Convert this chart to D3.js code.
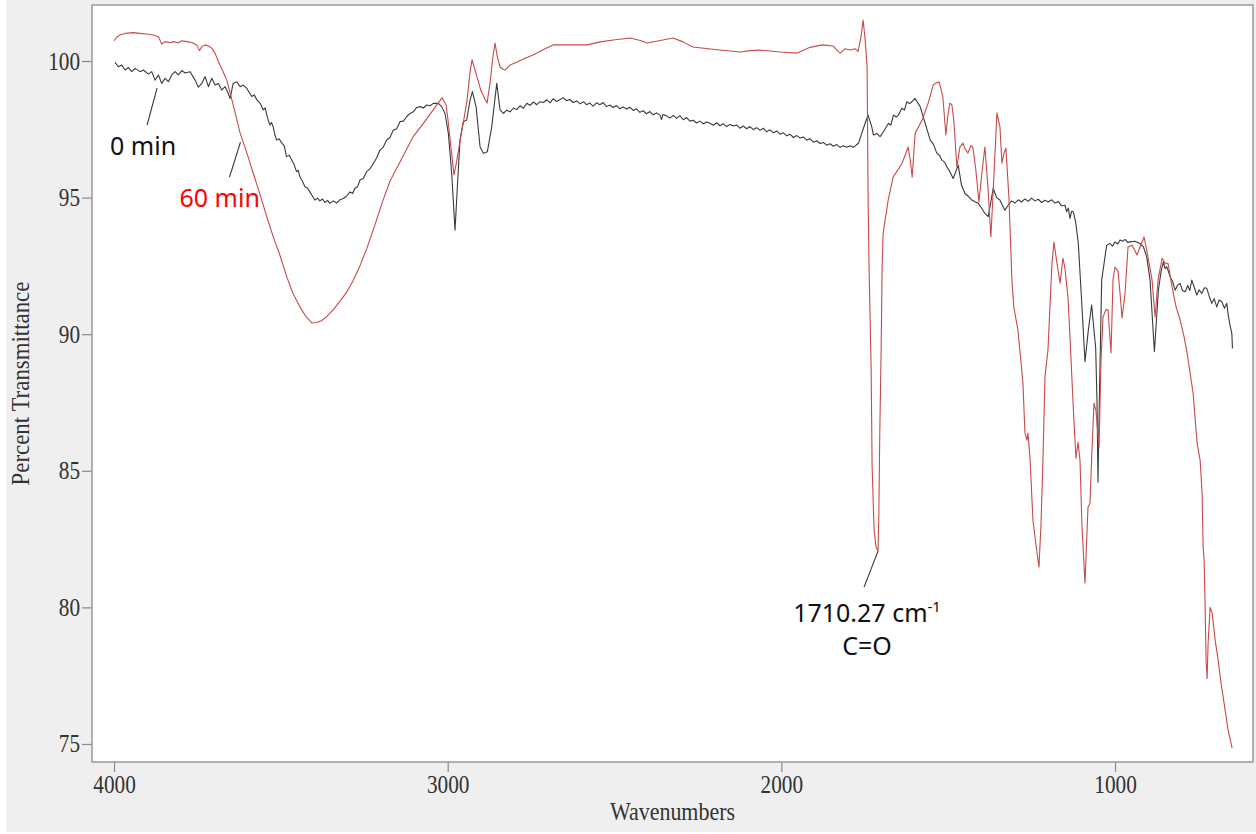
<!DOCTYPE html>
<html>
<head>
<meta charset="utf-8">
<script src="https://cdn.jsdelivr.net/npm/d3@7"></script>
<style>
  body { margin: 0; background: #fff; }
  svg { display: block; }
</style>
</head>
<body>
<svg id="chart" width="1256" height="834"></svg>
<script>
// FTIR spectra: percent transmittance vs wavenumber (cm-1), [wavenumber, %T]

// 0 min sample
const spectrum0 = [
  [3997, 99.95], [3987, 99.79], [3977, 99.85], [3967, 99.67], [3957, 99.76], [3947, 99.61], [3937, 99.73],
  [3922, 99.61], [3912, 99.67], [3897, 99.52], [3887, 99.61], [3877, 99.30], [3867, 99.49], [3857, 99.18],
  [3847, 99.37], [3837, 99.24], [3827, 99.49], [3817, 99.61], [3807, 99.49], [3797, 99.65], [3787, 99.56],
  [3772, 99.61], [3757, 99.30], [3747, 99.04], [3737, 99.18], [3727, 99.43], [3717, 99.06], [3707, 99.37],
  [3697, 99.12], [3687, 99.18], [3677, 98.94], [3667, 99.06], [3658, 98.82], [3652, 98.63], [3643, 99.18],
  [3632, 99.24], [3622, 99.06], [3613, 99.12], [3602, 99.00], [3595, 98.85], [3587, 98.70], [3580, 98.76],
  [3572, 98.58], [3562, 98.45], [3553, 98.21], [3547, 98.28], [3542, 98.02], [3537, 97.80], [3533, 97.66],
  [3528, 97.75], [3523, 97.59], [3518, 97.30], [3513, 97.11], [3505, 97.15], [3497, 96.99], [3490, 96.90],
  [3483, 96.50], [3475, 96.55], [3467, 96.37], [3460, 96.20], [3453, 95.95], [3448, 96.00], [3443, 95.76],
  [3435, 95.60], [3428, 95.40], [3420, 95.35], [3413, 95.21], [3405, 95.05], [3398, 94.91], [3390, 94.98],
  [3383, 94.88], [3375, 94.95], [3368, 94.82], [3360, 94.90], [3353, 94.79], [3343, 94.88], [3333, 94.80],
  [3323, 94.92], [3313, 94.97], [3303, 95.05], [3293, 95.21], [3285, 95.15], [3278, 95.34], [3270, 95.40],
  [3263, 95.64], [3253, 95.70], [3243, 95.95], [3233, 96.05], [3223, 96.25], [3213, 96.45], [3203, 96.74],
  [3193, 96.85], [3183, 97.11], [3173, 97.20], [3163, 97.47], [3153, 97.52], [3143, 97.78], [3133, 97.80],
  [3123, 97.96], [3113, 98.08], [3103, 98.14], [3093, 98.30], [3083, 98.33], [3073, 98.28], [3063, 98.39],
  [3053, 98.36], [3043, 98.45], [3028, 98.45], [3018, 98.33], [3008, 98.08], [2998, 97.35], [2988, 95.89],
  [2978, 93.81], [2971, 95.40], [2963, 97.11], [2953, 97.78], [2943, 97.84], [2933, 98.57], [2926, 98.88],
  [2915, 98.33], [2903, 96.86], [2893, 96.62], [2881, 96.68], [2868, 97.59], [2853, 99.18], [2843, 98.21],
  [2833, 98.08], [2823, 98.20], [2813, 98.14], [2803, 98.28], [2793, 98.22], [2783, 98.36], [2773, 98.27],
  [2763, 98.45], [2753, 98.38], [2743, 98.50], [2733, 98.40], [2723, 98.51], [2713, 98.48], [2703, 98.58],
  [2693, 98.47], [2684, 98.62], [2674, 98.52], [2664, 98.58], [2654, 98.66], [2644, 98.55], [2634, 98.59],
  [2624, 98.48], [2613, 98.54], [2603, 98.43], [2593, 98.51], [2584, 98.40], [2574, 98.46], [2564, 98.35],
  [2554, 98.47], [2544, 98.40], [2534, 98.48], [2524, 98.33], [2514, 98.39], [2504, 98.30], [2494, 98.37],
  [2484, 98.25], [2474, 98.32], [2464, 98.24], [2454, 98.31], [2444, 98.19], [2434, 98.25], [2424, 98.12],
  [2414, 98.18], [2404, 98.07], [2394, 98.15], [2384, 98.03], [2374, 98.10], [2364, 98.02], [2359, 97.86],
  [2355, 98.04], [2345, 98.00], [2334, 97.91], [2324, 98.01], [2314, 97.90], [2304, 98.00], [2294, 97.85],
  [2284, 97.93], [2274, 97.80], [2264, 97.83], [2254, 97.73], [2244, 97.80], [2234, 97.70], [2224, 97.77],
  [2214, 97.72], [2204, 97.65], [2194, 97.74], [2184, 97.63], [2174, 97.70], [2164, 97.60], [2154, 97.68],
  [2144, 97.62], [2134, 97.66], [2124, 97.54], [2114, 97.62], [2104, 97.52], [2094, 97.60], [2084, 97.49],
  [2074, 97.56], [2064, 97.46], [2054, 97.54], [2044, 97.41], [2034, 97.48], [2024, 97.37], [2014, 97.44],
  [2004, 97.32], [1994, 97.37], [1984, 97.26], [1974, 97.32], [1964, 97.20], [1954, 97.27], [1944, 97.18],
  [1934, 97.22], [1924, 97.10], [1914, 97.16], [1904, 97.03], [1894, 97.08], [1884, 96.98], [1874, 97.02],
  [1864, 96.92], [1854, 96.97], [1844, 96.88], [1834, 96.94], [1824, 96.84], [1814, 96.90], [1804, 96.84],
  [1794, 96.90], [1784, 96.84], [1769, 96.99], [1759, 97.35], [1749, 97.72], [1740, 98.02], [1729, 97.59],
  [1724, 97.29], [1714, 97.35], [1704, 97.23], [1694, 97.41], [1679, 97.72], [1672, 97.65], [1664, 98.02],
  [1656, 97.95], [1649, 98.02], [1639, 98.27], [1631, 98.20], [1624, 98.51], [1616, 98.44], [1609, 98.51],
  [1599, 98.63], [1584, 98.33], [1569, 97.72], [1554, 97.11], [1544, 96.95], [1534, 96.62], [1526, 96.55],
  [1519, 96.37], [1511, 96.30], [1504, 96.13], [1495, 95.95], [1485, 95.70], [1470, 96.19], [1460, 95.45],
  [1450, 95.16], [1440, 95.05], [1429, 94.91], [1420, 94.85], [1410, 94.79], [1400, 94.62], [1390, 94.42],
  [1380, 94.30], [1365, 95.34], [1355, 95.00], [1345, 94.91], [1337, 94.70], [1330, 94.54], [1320, 94.73],
  [1310, 94.88], [1300, 94.80], [1290, 94.92], [1280, 94.84], [1270, 94.95], [1260, 94.86], [1250, 94.98],
  [1240, 94.88], [1230, 94.94], [1220, 94.82], [1210, 94.90], [1200, 94.84], [1190, 94.92], [1180, 94.80],
  [1170, 94.86], [1160, 94.70], [1150, 94.72], [1145, 94.48], [1140, 94.62], [1135, 94.24], [1130, 94.50],
  [1125, 94.48], [1118, 94.10], [1110, 93.32], [1100, 91.20], [1090, 88.99], [1080, 90.15], [1070, 91.07],
  [1062, 90.00], [1058, 89.50], [1054, 87.50], [1051, 84.58], [1047, 87.59], [1040, 91.98], [1025, 93.26],
  [1015, 93.32], [1008, 93.22], [1000, 93.38], [992, 93.30], [985, 93.45], [977, 93.40], [970, 93.47],
  [962, 93.36], [955, 93.38], [940, 93.40], [925, 93.32], [915, 93.20], [905, 92.83], [895, 91.98],
  [882, 89.36], [870, 91.61], [862, 92.30], [855, 92.65], [850, 92.40], [845, 92.47], [840, 92.30],
  [835, 92.10], [828, 91.95], [820, 91.61], [812, 91.80], [805, 91.86], [798, 91.60], [790, 91.55],
  [782, 91.78], [776, 91.60], [770, 91.98], [762, 91.70], [755, 91.43], [748, 91.62], [740, 91.49],
  [732, 91.70], [725, 91.68], [718, 91.40], [710, 91.13], [703, 91.30], [695, 91.00], [688, 91.25],
  [680, 91.19], [672, 90.95], [665, 91.13], [660, 90.64], [655, 90.30], [650, 90.03], [648, 89.48]
];

// 60 min sample
const spectrum60 = [
  [4000, 100.74], [3992, 100.87], [3982, 100.95], [3967, 101.01], [3942, 101.04], [3922, 101.01],
  [3902, 100.99], [3882, 100.95], [3867, 100.89], [3857, 100.62], [3847, 100.71], [3832, 100.67],
  [3822, 100.71], [3807, 100.67], [3797, 100.74], [3782, 100.71], [3767, 100.68], [3752, 100.59],
  [3744, 100.38], [3737, 100.52], [3727, 100.59], [3717, 100.55], [3707, 100.47], [3697, 100.28],
  [3687, 99.97], [3673, 99.61], [3662, 99.30], [3643, 98.40], [3622, 97.36], [3601, 96.60],
  [3583, 95.90], [3562, 95.10], [3542, 94.29], [3521, 93.50], [3503, 92.90], [3482, 92.09],
  [3464, 91.50], [3443, 91.00], [3425, 90.65], [3407, 90.41], [3392, 90.43], [3377, 90.50],
  [3362, 90.65], [3344, 90.88], [3323, 91.20], [3302, 91.55], [3284, 91.95], [3263, 92.50],
  [3242, 93.15], [3218, 94.00], [3194, 94.90], [3173, 95.60], [3143, 96.30], [3104, 97.22],
  [3074, 97.70], [3044, 98.20], [3017, 98.65], [3005, 98.40], [2999, 97.84], [2990, 96.80],
  [2981, 95.83], [2972, 96.40], [2963, 97.10], [2951, 97.90], [2942, 98.57], [2933, 99.60],
  [2927, 100.04], [2921, 99.80], [2912, 99.41], [2900, 98.90], [2888, 98.60], [2882, 98.46],
  [2873, 99.20], [2864, 100.20], [2858, 100.66], [2852, 100.20], [2843, 99.78], [2834, 99.70],
  [2828, 99.67], [2813, 99.85], [2792, 99.96], [2768, 100.10], [2744, 100.22], [2708, 100.45],
  [2684, 100.59], [2633, 100.59], [2582, 100.59], [2543, 100.70], [2498, 100.78], [2453, 100.84],
  [2423, 100.75], [2402, 100.66], [2363, 100.75], [2325, 100.84], [2295, 100.70], [2265, 100.51],
  [2199, 100.42], [2124, 100.33], [2094, 100.38], [2064, 100.40], [2004, 100.33], [1953, 100.29],
  [1914, 100.50], [1877, 100.59], [1845, 100.55], [1830, 100.35], [1824, 100.29], [1809, 100.45],
  [1794, 100.40], [1779, 100.45], [1770, 100.35], [1761, 100.90], [1755, 101.50], [1749, 100.80],
  [1743, 99.78], [1740, 94.90], [1737, 92.35], [1731, 88.80], [1728, 85.13], [1722, 82.83],
  [1716, 82.20], [1710.27, 82.06], [1708, 83.30], [1705, 86.40], [1701, 89.40], [1698, 92.46],
  [1695, 93.70], [1680, 94.90], [1665, 95.75], [1638, 96.26], [1620, 96.85], [1614, 96.40],
  [1608, 95.75], [1599, 97.36], [1578, 97.84], [1560, 98.46], [1545, 99.12], [1536, 99.20],
  [1527, 99.23], [1522, 99.00], [1516, 98.68], [1507, 97.29], [1501, 98.00], [1495, 98.46],
  [1489, 98.40], [1483, 97.80], [1474, 96.12], [1465, 96.85], [1456, 97.00], [1450, 96.80],
  [1441, 96.63], [1432, 96.90], [1426, 96.85], [1417, 96.00], [1408, 94.84], [1399, 95.90],
  [1390, 96.85], [1381, 95.40], [1372, 93.56], [1363, 95.80], [1354, 98.10], [1345, 97.60],
  [1339, 96.26], [1333, 96.60], [1327, 96.81], [1318, 95.00], [1309, 91.98], [1303, 90.96],
  [1291, 90.15], [1282, 89.00], [1276, 88.21], [1270, 86.38], [1264, 86.12], [1261, 86.38],
  [1255, 85.50], [1246, 83.19], [1237, 82.30], [1228, 81.47], [1222, 83.00], [1216, 85.39],
  [1210, 88.43], [1201, 89.42], [1195, 91.00], [1189, 92.60], [1183, 93.37], [1174, 92.60],
  [1165, 91.87], [1156, 92.78], [1150, 92.40], [1141, 91.36], [1135, 89.90], [1129, 88.32],
  [1123, 86.80], [1117, 85.46], [1111, 86.05], [1105, 85.39], [1099, 82.94], [1090, 80.89],
  [1081, 83.67], [1075, 83.80], [1069, 85.80], [1063, 87.48], [1057, 87.20], [1048, 85.87],
  [1042, 89.05], [1036, 90.63], [1027, 90.90], [1021, 90.88], [1012, 89.31], [1006, 92.00],
  [1000, 92.46], [991, 92.30], [985, 91.50], [979, 90.59], [970, 91.50], [961, 93.19],
  [949, 93.26], [934, 92.90], [925, 93.19], [913, 93.56], [901, 92.82], [889, 91.98],
  [880, 90.63], [871, 91.98], [859, 92.78], [850, 92.60], [841, 92.59], [829, 91.72],
  [817, 91.00], [805, 90.52], [793, 89.90], [784, 89.31], [775, 88.58], [766, 87.84],
  [754, 86.01], [745, 85.39], [739, 84.18], [736, 82.20], [733, 81.73], [730, 80.00],
  [727, 78.00], [724, 77.40], [721, 78.70], [715, 80.00], [709, 79.80], [700, 78.80],
  [691, 78.07], [682, 77.20], [670, 76.24], [661, 75.50], [649, 74.85]
];

const seriesLabels = ["0 min", "60 min"];
const xTickValues = [4000, 3000, 2000, 1000];
const yTickValues = [75, 80, 85, 90, 95, 100];
const xDomain = [4066, 586.5];
const yDomain = [74.34, 102.05];

// ---------------------------------------------------------------------------
const svg = d3.select("#chart");
const W = 1256, H = 834;
const plot = { left: 92, top: 5, right: 1253, bottom: 762 };

const x = d3.scaleLinear().domain(xDomain).range([plot.left, plot.right]);
const y = d3.scaleLinear().domain(yDomain).range([plot.bottom, plot.top]);

const serifFont = "'Liberation Serif', 'Times New Roman', serif";
const sansFont = "'Noto Sans', 'Open Sans', sans-serif";

// panel background and plot area
svg.append("rect").attr("x", 6).attr("y", 0).attr("width", W - 6).attr("height", H - 2)
  .attr("fill", "#efefef");
svg.append("rect")
  .attr("x", plot.left).attr("y", plot.top)
  .attr("width", plot.right - plot.left).attr("height", plot.bottom - plot.top)
  .attr("fill", "#fff");

svg.append("clipPath").attr("id", "plot-clip")
  .append("rect")
  .attr("x", plot.left).attr("y", plot.top)
  .attr("width", plot.right - plot.left).attr("height", plot.bottom - plot.top);

// axes
const xAxis = svg.append("g")
  .attr("transform", `translate(0,${plot.bottom})`)
  .call(d3.axisBottom(x).tickValues(xTickValues).tickSize(10).tickSizeOuter(0)
    .tickPadding(3).tickFormat(d3.format("d")));
const yAxis = svg.append("g")
  .attr("transform", `translate(${plot.left},0)`)
  .call(d3.axisLeft(y).tickValues(yTickValues).tickSize(10).tickSizeOuter(0)
    .tickPadding(4).tickFormat(d3.format("d")));

[xAxis, yAxis].forEach(g => {
  g.select(".domain").remove();
  g.selectAll(".tick line").attr("stroke", "#8a8a8a").attr("stroke-width", 1.2);
  g.selectAll(".tick text")
    .attr("font-family", serifFont)
    .attr("font-size", 25)
    .attr("fill", "#333")
    .attr("transform", "scale(0.85,1)");
});

// frame drawn over the tick roots
svg.append("rect")
  .attr("x", plot.left).attr("y", plot.top)
  .attr("width", plot.right - plot.left).attr("height", plot.bottom - plot.top)
  .attr("fill", "none").attr("stroke", "#999").attr("stroke-width", 1.5);

// axis titles
svg.append("text")
  .attr("transform", `translate(${(plot.left + plot.right) / 2},820) scale(0.88,1)`)
  .attr("text-anchor", "middle")
  .attr("font-family", serifFont).attr("font-size", 25).attr("fill", "#333")
  .text("Wavenumbers");
svg.append("text")
  .attr("transform", `translate(29,${(plot.top + plot.bottom) / 2}) rotate(-90) scale(0.88,1)`)
  .attr("text-anchor", "middle")
  .attr("font-family", serifFont).attr("font-size", 26).attr("fill", "#333")
  .text("Percent Transmittance");

// spectra
const line = d3.line().x(d => x(d[0])).y(d => y(d[1]));
const spectra = [
  { name: seriesLabels[0], color: "#3a3a3a", points: spectrum0 },
  { name: seriesLabels[1], color: "#c84a4a", points: spectrum60 }
];
svg.append("g").attr("clip-path", "url(#plot-clip)")
  .selectAll("path").data(spectra).join("path")
  .attr("d", d => line(d.points))
  .attr("fill", "none")
  .attr("stroke", d => d.color)
  .attr("stroke-width", 1.1)
  .attr("stroke-linejoin", "round");

// annotations
const ann = svg.append("g");
function leader(px, py, dx, dy) {
  ann.append("line")
    .attr("x1", px).attr("y1", py).attr("x2", px + dx).attr("y2", py + dy)
    .attr("stroke", "#333").attr("stroke-width", 1.1);
}

// series labels with leader lines pointing at each trace
const seriesNotes = [
  { label: seriesLabels[0], wn: 3871, t: 99.01, color: "#111", line: [-10, 37], text: [-47, 67] },
  { label: seriesLabels[1], wn: 3621, t: 97.03, color: "#ff0000", line: [-11, 35], text: [-61, 65] }
];
seriesNotes.forEach(n => {
  const px = x(n.wn), py = y(n.t);
  leader(px, py, n.line[0], n.line[1]);
  ann.append("text")
    .attr("x", px + n.text[0]).attr("y", py + n.text[1])
    .attr("font-family", sansFont).attr("font-size", 25).attr("fill", n.color)
    .text(n.label);
});

// carbonyl band: deepest point of the 60 min trace between 1650 and 1800 cm-1
const band = spectrum60.filter(d => d[0] > 1650 && d[0] < 1800);
const peak = band.reduce((a, b) => b[1] < a[1] ? b : a);
const peakX = x(peak[0]), peakY = y(peak[1]);
leader(peakX, peakY, -14, 36);
const peakLabel = ann.append("text")
  .attr("x", peakX - 11).attr("y", peakY + 71)
  .attr("text-anchor", "middle")
  .attr("font-family", sansFont).attr("font-size", 25).attr("fill", "#111");
peakLabel.append("tspan").text(`${peak[0].toFixed(2)} cm`);
peakLabel.append("tspan").attr("dy", -10).attr("font-size", 15).text("-1");
ann.append("text")
  .attr("x", peakX - 11).attr("y", peakY + 104)
  .attr("text-anchor", "middle")
  .attr("font-family", sansFont).attr("font-size", 25).attr("fill", "#111")
  .text("C=O");
</script>
</body>
</html>
